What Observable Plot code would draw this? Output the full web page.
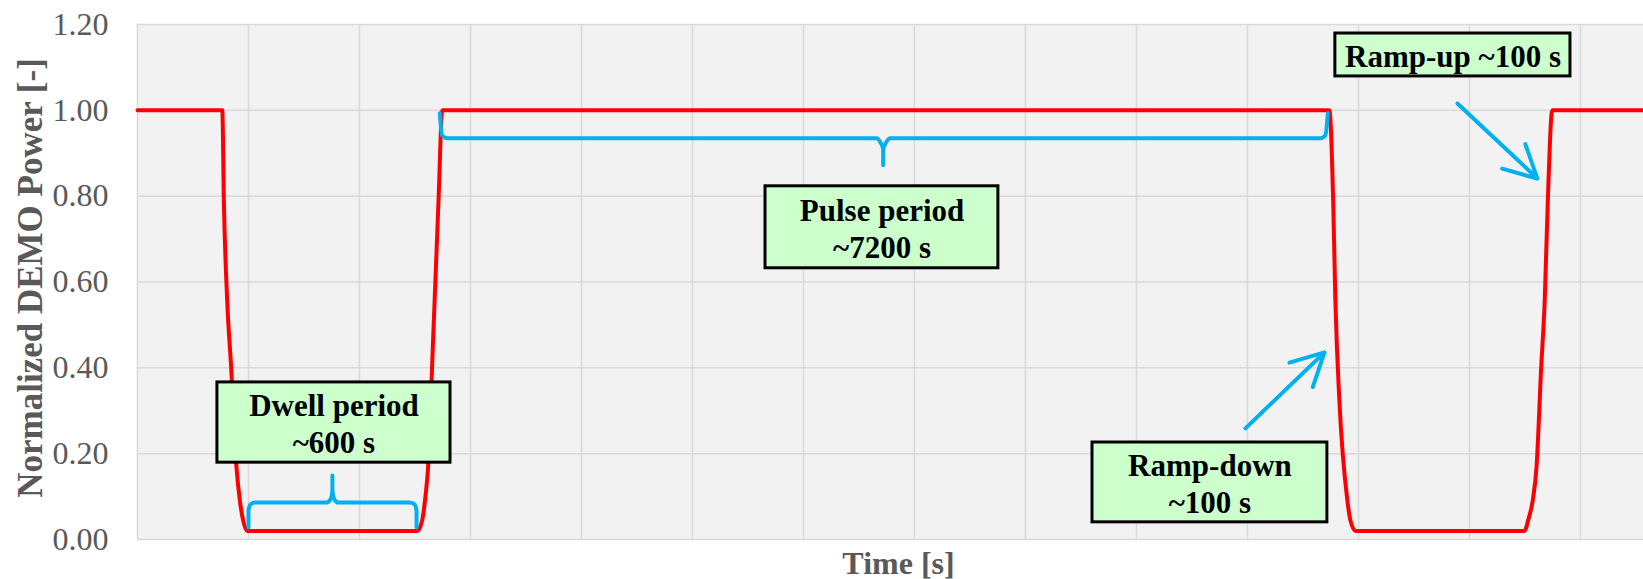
<!DOCTYPE html>
<html>
<head>
<meta charset="utf-8">
<script src="https://cdn.jsdelivr.net/npm/d3@7"></script>
<script src="https://cdn.jsdelivr.net/npm/@observablehq/plot@0.6"></script>
<style>
  html, body { margin: 0; padding: 0; background: white; }
</style>
</head>
<body>
<div id="chart"></div>
<script>
// ---- Data (time in s, normalized power) ----
const gridTimes = [0, 500, 1000, 1500, 2000, 2500, 3000, 3500, 4000, 4500, 5000, 5500, 6000, 6500];
const yTicks = [0, 0.2, 0.4, 0.6, 0.8, 1.0, 1.2];

const times = [0, 382, 389, 404, 422, 446, 461, 476, 494,
  1261, 1282, 1297, 1311, 1328, 1356, 1373,
  5369, 5386, 5396, 5414, 5450, 5464, 5487,
  6248, 6264, 6285, 6302, 6323, 6339, 6353, 6373, 6784];
const power = [1, 1, 0.79, 0.557, 0.40, 0.168, 0.091, 0.044, 0.02,
  0.02, 0.044, 0.10, 0.184, 0.417, 0.79, 1,
  1, 0.79, 0.557, 0.324, 0.091, 0.044, 0.02,
  0.02, 0.044, 0.091, 0.168, 0.40, 0.557, 0.79, 1, 1];

// annotation boxes
const notes = ["Dwell period\n~600 s", "Pulse period\n~7200 s", "Ramp-down\n~100 s", "Ramp-up ~100 s"];
const noteT = [885, 3354, 4831, 5926];
const noteV = [0.273, 0.727, 0.133, 1.129];
const boxT1 = [360, 2829, 4302, 5396];
const boxT2 = [1410, 3878, 5360, 6455];
const boxV1 = [0.179, 0.632, 0.040, 1.079];
const boxV2 = [0.366, 0.823, 0.226, 1.179];

// arrows
const arrowT1 = [4991, 5946];
const arrowV1 = [0.259, 1.016];
const arrowT2 = [5347, 6306];
const arrowV2 = [0.436, 0.841];

// braces (each half drawn from its tip outwards)
const braceId = ["d1","d1","d1","d1","d1","d1","d1","d1",
  "d2","d2","d2","d2","d2","d2","d2",
  "p1","p1","p1","p1","p1","p1","p1",
  "p2","p2","p2","p2","p2","p2"];
const braceT = [878, 878, 869, 851, 531, 509, 500, 500,
  878, 887, 905, 1225, 1248, 1257, 1257,
  3359, 3359, 3347, 3329, 1396, 1372, 1362,
  3359, 3372, 3390, 5329, 5351, 5362];
const braceV = [0.149, 0.110, 0.093, 0.086, 0.086, 0.082, 0.068, 0.028,
  0.110, 0.093, 0.086, 0.086, 0.082, 0.068, 0.028,
  0.872, 0.911, 0.925, 0.935, 0.935, 0.942, 0.993,
  0.911, 0.925, 0.935, 0.935, 0.942, 0.993];

// ---- Build tables ----
const curve = times.map((t, i) => ({t, v: power[i]}));
const boxes = notes.map((n, i) => ({text: n, t: noteT[i], v: noteV[i], t1: boxT1[i], t2: boxT2[i], v1: boxV1[i], v2: boxV2[i]}));
const arrows = arrowT1.map((t, i) => ({t1: t, v1: arrowV1[i], t2: arrowT2[i], v2: arrowV2[i]}));
const braces = braceT.map((t, i) => ({id: braceId[i], t, v: braceV[i]}));

const serif = "'Liberation Serif', 'Times New Roman', serif";
const gray = "#595959";
const blue = "#00B0F0";

const chart = Plot.plot({
  width: 1643,
  height: 579,
  marginLeft: 137,
  marginRight: 0,
  marginTop: 24,
  marginBottom: 40,
  style: {fontFamily: serif, background: "white", overflow: "visible"},
  x: {domain: [0, 6784], axis: null},
  y: {domain: [0, 1.2], axis: null},
  marks: [
    Plot.frame({fill: "#F2F2F2", stroke: "none"}),
    Plot.gridX(gridTimes, {stroke: "#D9D9D9", strokeOpacity: 1, strokeWidth: 1.5}),
    Plot.gridY(yTicks, {stroke: "#D9D9D9", strokeOpacity: 1, strokeWidth: 1.5}),
    Plot.axisY(yTicks, {
      tickSize: 0, tickPadding: 29, tickFormat: d3.format(".2f"),
      fontSize: 32, fill: gray, label: null
    }),
    Plot.text(["Normalized DEMO Power [-]"], {
      frameAnchor: "left", textAnchor: "middle", dx: -107, dy: -4, rotate: -90, lineAnchor: "middle",
      fontSize: 35, fontWeight: "bold", fill: gray, fontFamily: serif
    }),
    Plot.text(["Time [s]"], {
      frameAnchor: "bottom", textAnchor: "middle", dy: 34, dx: 8, lineAnchor: "bottom",
      fontSize: 32, fontWeight: "bold", fill: gray, fontFamily: serif
    }),
    Plot.line(curve, {x: "t", y: "v", curve: "monotone-x", stroke: "#FF0000", strokeWidth: 4, strokeLinejoin: "round"}),
    Plot.line(braces, {x: "t", y: "v", z: "id", curve: "monotone-x", stroke: blue, strokeWidth: 4, strokeLinejoin: "round", strokeLinecap: "round"}),
    Plot.arrow(arrows, {x1: "t1", y1: "v1", x2: "t2", y2: "v2", stroke: blue, strokeWidth: 4, headLength: 26, headAngle: 55}),
    Plot.rect(boxes, {x1: "t1", x2: "t2", y1: "v1", y2: "v2", fill: "#CCFFCC", stroke: "black", strokeWidth: 3}),
    Plot.text(boxes, {x: "t", y: "v", text: "text", lineAnchor: "middle", lineHeight: 1.22,
      fontSize: 31, fontWeight: "bold", fill: "black", fontFamily: serif})
  ]
});

document.getElementById("chart").appendChild(chart);
</script>
</body>
</html>
